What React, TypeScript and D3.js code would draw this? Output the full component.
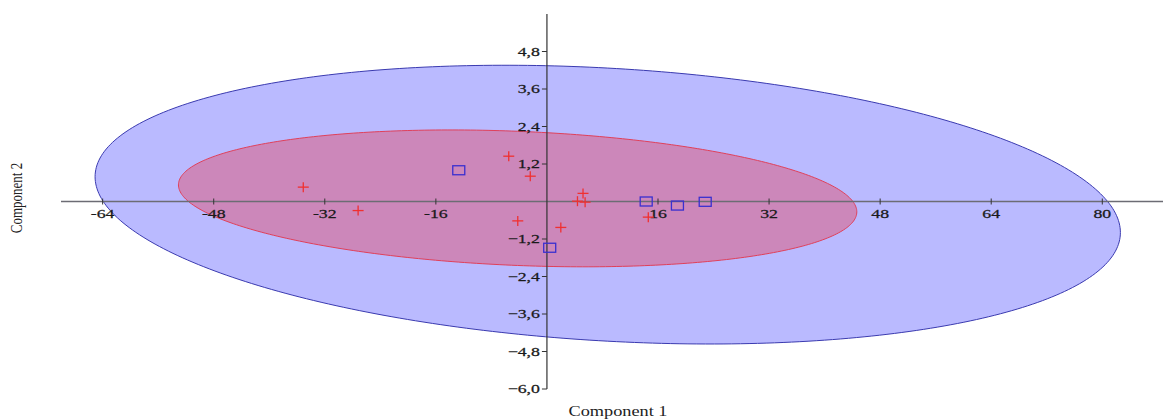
import React, { useEffect } from "react";
import * as d3 from "d3";

const width = 1163, height = 419;

// red group (crosses)
const redX = [-35.1, -27.2, -5.5, -2.4, 5.2, 4.4, 5.5, -4.2, 2.0, 14.6];
const redY = [0.46, -0.29, 1.45, 0.81, 0.26, 0.01, -0.02, -0.62, -0.83, -0.5];
// blue group (squares)
const blueX = [-12.7, 14.3, 18.8, 22.8, 0.4];
const blueY = [1.0, 0.0, -0.13, -0.01, -1.48];

const xTicks = [-64, -48, -32, -16, 16, 32, 48, 64, 80];
const yTicks = [4.8, 3.6, 2.4, 1.2, -1.2, -2.4, -3.6, -4.8, -6.0];

// ellipses: [center x, center y, radius x, radius y, correlation]
const blueEllipse = [8.76, -0.1, 73.85, 4.46, -0.2];
const redEllipse = [-4.22, 0.1, 48.86, 2.19, -0.197];

const xScale = d3.scaleLinear().domain([-70, 90]).range([61, 1171.7]);
const yScale = d3.scaleLinear().domain([-6, 6]).range([389, 14]);

const ellipsePath = (e: number[]) => {
    const [cx, cy, rx, ry, r] = e;
    const pts = d3.range(0, 360, 1).map((deg) => {
        const t = (deg * Math.PI) / 180;
        const x = cx + rx * Math.cos(t);
        const y = cy + ry * (r * Math.cos(t) + Math.sqrt(1 - r * r) * Math.sin(t));
        return [xScale(x), yScale(y)] as [number, number];
    });
    return d3.line().curve(d3.curveLinearClosed)(pts) || "";
};

const comma = (v: number) => d3.format(".1f")(v).replace(".", ",");

const App = () => {
    useEffect(() => {
        document.body.style.margin = "0";
    }, []);

    const x0 = xScale(0), y0 = yScale(0);

    return (
        <svg width={width} height={height} style={{ display: "block", background: "#fff" }}
             fontFamily="'Liberation Serif', 'DejaVu Serif', serif">
            <path d={ellipsePath(blueEllipse)} fill="rgba(0,0,255,0.27)" stroke="#3a3ab0" strokeWidth={1} />
            <path d={ellipsePath(redEllipse)} fill="rgba(255,0,0,0.27)" stroke="#e0405a" strokeWidth={1} />

            {/* x axis */}
            <line x1={xScale(-70)} x2={width} y1={y0} y2={y0} stroke="#6c6c74" strokeWidth={1.5} />
            {xTicks.map((t) => (
                <g key={"x" + t} transform={`translate(${xScale(t)},${y0})`}>
                    <line y1={-3} y2={3} stroke="#333" />
                    <text y={16.5} textAnchor="middle" fontSize={12.5} fill="#1a1a1a" stroke="#1a1a1a" strokeWidth={0.25}
                          transform="scale(1.42,1)">{t}</text>
                </g>
            ))}

            {/* y axis */}
            <line x1={x0} x2={x0} y1={yScale(6)} y2={yScale(-6)} stroke="#333" strokeWidth={1.2} />
            {yTicks.map((t) => (
                <g key={"y" + t} transform={`translate(${x0},${yScale(t)})`}>
                    <line x1={-5} x2={0} stroke="#333" />
                    <g transform="translate(-7,0) scale(1.42,1)">
                        <text textAnchor="end" dy="0.35em" fontSize={12.5} fill="#1a1a1a" stroke="#1a1a1a" strokeWidth={0.25}>{comma(t)}</text>
                    </g>
                </g>
            ))}

            {/* points */}
            {redX.map((v, i) => (
                <g key={"r" + i} transform={`translate(${xScale(v)},${yScale(redY[i])})`} stroke="#f03030" strokeWidth={1.3}>
                    <line x1={-5.5} x2={5.5} />
                    <line y1={-5} y2={5} />
                </g>
            ))}
            {blueX.map((v, i) => (
                <rect key={"b" + i} x={xScale(v) - 6} y={yScale(blueY[i]) - 4.5} width={12} height={9}
                      fill="none" stroke="#3a2fd0" strokeWidth={1.3} />
            ))}

            <text x={618} y={416} textAnchor="middle" fontSize={14} fill="#222" textLength={99} lengthAdjust="spacingAndGlyphs">Component 1</text>
            <text transform="translate(22,198) scale(1.3,1) rotate(-90)" textAnchor="middle" fontSize={13} fill="#222">Component 2</text>
        </svg>
    );
};

export default App;
